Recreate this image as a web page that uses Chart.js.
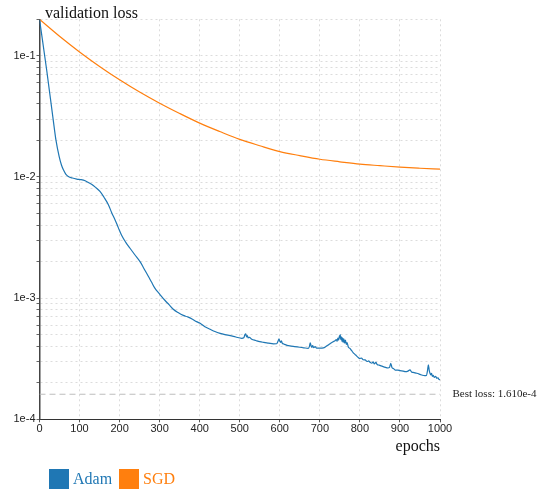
<!DOCTYPE html>
<html>
<head>
<meta charset="utf-8">
<script src="https://cdn.jsdelivr.net/npm/chart.js@4/dist/chart.umd.min.js"></script>
<style>
  html, body { margin: 0; padding: 0; background: #fff; }
  #wrap { position: relative; width: 543px; height: 489px; }
  #c { position: absolute; left: 0; top: 0; }
  #legend { position: absolute; left: 49px; top: 469px; display: flex; align-items: center;
            font-family: "Liberation Serif", "Times New Roman", serif; font-size: 16px; }
  .item { display: flex; align-items: center; margin-right: 7px; }
  .box { width: 20px; height: 20px; margin-right: 4px; }
</style>
</head>
<body>
<div id="wrap">
  <canvas id="c" width="543" height="489"></canvas>
  <div id="legend"></div>
</div>
<script>
// Validation loss per epoch for two optimisers
const seriesNames = ['Adam', 'SGD'];
const seriesColors = ['#1f77b4', '#ff7f0e'];

const adamEpochs = [
  0, 18, 34, 41, 49, 55, 60, 66, 72, 82, 93, 104, 114, 122, 130, 140, 151, 161, 172, 180,
  189, 197, 205, 215, 226, 238, 251, 261, 272, 280, 288, 300, 313, 324, 334, 346, 359, 370, 382, 392,
  401, 413, 426, 438, 451, 463, 476, 490, 505, 510, 513, 515, 517, 519, 521, 524, 530, 540, 550, 560,
  572, 584, 592, 596, 598, 600, 602, 604, 606, 610, 618, 625, 637, 650, 660, 671, 674, 676, 678, 680,
  682, 685, 688, 692, 700, 709, 715, 721, 727, 733, 738, 741, 743, 745, 747, 749, 750, 751, 752, 754,
  755, 757, 758, 760, 762, 764, 766, 768, 771, 775, 779, 783, 787, 791, 796, 800, 804, 808, 813, 818,
  822, 825, 830, 833, 836, 840, 843, 848, 853, 858, 864, 870, 874, 877, 880, 884, 888, 895, 900, 908,
  914, 920, 925, 929, 935, 942, 950, 956, 962, 966, 969, 971, 973, 975, 977, 979, 981, 983, 986, 989,
  992, 995, 998, 1000
];
const adamLoss = [
  0.2, 0.076, 0.0300, 0.0202, 0.0148, 0.0125, 0.0114, 0.0105, 0.0101, 0.0098, 0.0096, 0.0095, 0.0093, 0.0090, 0.0087, 0.0082, 0.0076, 0.0068, 0.0059, 0.0051,
  0.0044, 0.0038, 0.0033, 0.0029, 0.00258, 0.00228, 0.00200, 0.00175, 0.00151, 0.00135, 0.00121, 0.00108, 0.00096, 0.00088, 0.00081, 0.00076, 0.00072, 0.00070, 0.00067, 0.00064,
  0.00062, 0.00058, 0.000553, 0.00053, 0.000512, 0.000500, 0.000490, 0.000478, 0.000466, 0.000470, 0.000500, 0.000508, 0.000478, 0.000490, 0.000470, 0.000475, 0.000458, 0.000447, 0.000437, 0.000431,
  0.000425, 0.000419, 0.000420, 0.000445, 0.000462, 0.000440, 0.000432, 0.000445, 0.000425, 0.000418, 0.000408, 0.000403, 0.000398, 0.000393, 0.000389, 0.000385, 0.000400, 0.000428, 0.000405, 0.000392,
  0.000405, 0.000390, 0.000398, 0.000387, 0.000386, 0.000388, 0.000398, 0.000411, 0.000425, 0.000437, 0.000445, 0.000455, 0.000440, 0.000468, 0.000450, 0.000490, 0.000470, 0.000500, 0.000455, 0.000480,
  0.000440, 0.000470, 0.000430, 0.000462, 0.000425, 0.000450, 0.000415, 0.000430, 0.000395, 0.000385, 0.000370, 0.000355, 0.000345, 0.000335, 0.000323, 0.000318, 0.000320, 0.000310, 0.000309, 0.000300,
  0.000303, 0.000296, 0.000290, 0.000298, 0.000286, 0.000295, 0.000283, 0.000280, 0.000276, 0.000272, 0.000268, 0.000265, 0.000268, 0.000290, 0.000268, 0.000262, 0.000255, 0.000255, 0.000252, 0.000250,
  0.000247, 0.000250, 0.000256, 0.000246, 0.000243, 0.000240, 0.000235, 0.000231, 0.000229, 0.000230, 0.000255, 0.000282, 0.000255, 0.000240, 0.000233, 0.000240, 0.000226, 0.000230, 0.000222, 0.000226,
  0.000218, 0.000220, 0.000212, 0.000213
];

const sgdEpochs = [0, 50, 100, 150, 200, 250, 300, 350, 400, 450, 500, 550, 600, 650, 700, 750, 800, 850, 900, 950, 1000];
const sgdLoss = [0.2, 0.145, 0.1076, 0.0817, 0.0634, 0.0502, 0.0406, 0.0334, 0.0278, 0.0237, 0.0204, 0.0181, 0.0162, 0.0150, 0.0140, 0.01334, 0.01276, 0.01239, 0.01205, 0.0118, 0.01159];

const bestLoss = 1.610e-4;

const xTickValues = [0, 100, 200, 300, 400, 500, 600, 700, 800, 900, 1000];
const xTickLabels = ['0', '100', '200', '300', '400', '500', '600', '700', '800', '900', '1000'];
const yDecades = [1e-4, 1e-3, 1e-2, 1e-1];
const yDecadeLabels = ['1e-4', '1e-3', '1e-2', '1e-1'];
const yMin = 1e-4, yMax = 0.2;

const titleText = 'validation loss';
const xTitleText = 'epochs';

// log-axis tick positions: each decade plus its 2..9 minors, up to the axis top
const yTickValues = [];
yDecades.forEach(d => {
  for (let m = 1; m <= 9; m++) {
    const v = +(d * m).toPrecision(6);
    if (v <= yMax * 1.000001) yTickValues.push(v);
  }
});

const serif = '"Liberation Serif", "Times New Roman", serif';
const sans = '"Liberation Sans", Arial, sans-serif';

const textLayer = {
  id: 'textLayer',
  afterDraw(chart) {
    const { ctx, chartArea, scales: { x, y } } = chart;
    ctx.save();
    ctx.fillStyle = '#111';
    ctx.font = '16px ' + serif;
    ctx.textBaseline = 'alphabetic';
    ctx.textAlign = 'left';
    ctx.fillText(titleText, chartArea.left + 5.5, chartArea.top - 1);
    ctx.textAlign = 'right';
    ctx.fillText(xTitleText, chartArea.right, chartArea.bottom + 31.5);
    ctx.font = '11px ' + serif;
    ctx.fillStyle = '#222';
    ctx.textAlign = 'left';
    ctx.textBaseline = 'middle';
    ctx.fillText('Best loss: ' + bestLoss.toExponential(3), x.getPixelForValue(1000) + 12.5, y.getPixelForValue(bestLoss));
    ctx.restore();
  }
};

const gridColor = '#dcdcdc';

new Chart(document.getElementById('c'), {
  type: 'line',
  data: {
    datasets: [
      {
        label: seriesNames[0],
        data: adamEpochs.map((e, i) => ({ x: e, y: adamLoss[i] })),
        borderColor: seriesColors[0], borderWidth: 1.2, pointRadius: 0, cubicInterpolationMode: 'monotone'
      },
      {
        label: seriesNames[1],
        data: sgdEpochs.map((e, i) => ({ x: e, y: sgdLoss[i] })),
        borderColor: seriesColors[1], borderWidth: 1.2, pointRadius: 0, cubicInterpolationMode: 'monotone'
      },
      {
        label: 'best',
        data: [{ x: 0, y: bestLoss }, { x: 1000, y: bestLoss }],
        borderColor: '#bdbdbd', borderWidth: 1, borderDash: [6, 4], pointRadius: 0
      }
    ]
  },
  options: {
    responsive: false,
    animation: false,
    devicePixelRatio: 1,
    layout: { padding: { top: 19.3, right: 103, left: 0, bottom: 0 } },
    plugins: { legend: { display: false }, tooltip: { enabled: false } },
    scales: {
      x: {
        type: 'linear', min: 0, max: 1000,
        afterBuildTicks: s => { s.ticks = xTickValues.map(v => ({ value: v })); },
        afterFit: s => { s.height = 69.7; },
        ticks: {
          callback: (v, i) => xTickLabels[i],
          font: { family: sans, size: 11 }, color: '#222', padding: 0,
          maxRotation: 0, autoSkip: false
        },
        grid: { color: gridColor, tickColor: '#555', tickLength: 3, tickBorderDash: [] },
        border: { color: '#333', width: 1, dash: [2, 3] }
      },
      y: {
        type: 'logarithmic', min: yMin, max: yMax,
        afterBuildTicks: s => { s.ticks = yTickValues.map(v => ({ value: v })); },
        afterFit: s => { s.width = 39.5; },
        ticks: {
          callback: v => {
            const k = yDecades.findIndex(d => Math.abs(d - v) / d < 1e-6);
            return k >= 0 ? yDecadeLabels[k] : '';
          },
          font: { family: sans, size: 11 }, color: '#222', padding: 1, autoSkip: false
        },
        grid: { color: gridColor, tickColor: '#666', tickLength: 3, tickBorderDash: [] },
        border: { color: '#444', width: 1.5, dash: [2, 3] }
      }
    }
  },
  plugins: [textLayer]
});

// legend strip under the chart
const legend = document.getElementById('legend');
seriesNames.forEach((name, i) => {
  const item = document.createElement('div');
  item.className = 'item';
  const box = document.createElement('div');
  box.className = 'box';
  box.style.background = seriesColors[i];
  const label = document.createElement('span');
  label.textContent = name;
  label.style.color = seriesColors[i];
  item.appendChild(box);
  item.appendChild(label);
  legend.appendChild(item);
});
</script>
</body>
</html>
